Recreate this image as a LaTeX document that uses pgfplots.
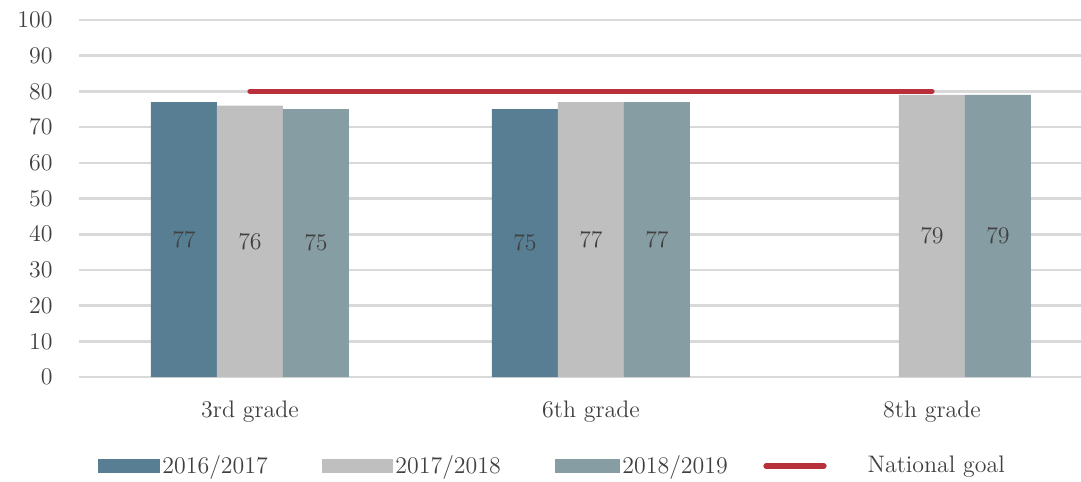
\documentclass[border=0pt]{standalone}
\usepackage{pgfplots}
\pgfplotsset{compat=1.18}
\definecolor{cA}{HTML}{577E93}
\definecolor{cB}{HTML}{BFBFBF}
\definecolor{cC}{HTML}{879DA4}
\definecolor{goal}{HTML}{B8313A}
\definecolor{gridc}{HTML}{D9D9D9}
\definecolor{txt}{HTML}{404040}
\begin{document}
\begin{tikzpicture}[font=\fontsize{12}{14}\selectfont]
\begin{axis}[
  scale only axis, width=500.75bp, height=178.5bp,
  xmin=-0.5, xmax=2.437, ymin=0, ymax=100,
  ytick={0,10,...,100},
  xtick={0,1,2}, xticklabels={3rd grade,6th grade,8th grade},
  axis line style={draw=none},
  major tick length=0pt,
  ymajorgrids, grid style={gridc, line width=1.3bp},
  tick label style={font=\fontsize{12}{14}\selectfont, text=txt},
  yticklabel style={anchor=east, inner sep=0pt, xshift=-13.25bp},
  xticklabel style={anchor=base, inner sep=0pt, yshift=-20bp},
  clip=false,
  legend style={at={(0,0)}, anchor=west, xshift=9.25bp, yshift=-44.5bp,
    draw=none, fill=none, inner sep=0pt, column sep=0pt,
    nodes={inner sep=0pt, text=txt},
    font=\fontsize{12}{14}\selectfont,
    /tikz/every odd column/.append style={column sep=1bp}},
  legend columns=4, legend cell align=left,
  nodes near coords,
  visualization depends on=y \as \rawy,
  every node near coord/.append style={anchor=center, text=txt,
    font=\fontsize{12}{14}\selectfont,
    shift={(axis direction cs:0,-\rawy/2)}},
]
\addplot[ybar, bar width=33bp, bar shift=-33bp, fill=cA, draw=none,
  every node near coord/.append style={xshift=-33bp},
  legend image code/.code={\fill[cA] (0bp,-3.5bp) rectangle (31bp,3.5bp);}]
  coordinates {(0,77) (1,75)};
\addlegendentry{\makebox[80bp][l]{2016/2017}}
\addplot[ybar, bar width=33bp, bar shift=0bp, fill=cB, draw=none,
  legend image code/.code={\fill[cB] (0bp,-3.5bp) rectangle (35.5bp,3.5bp);}]
  coordinates {(0,76) (1,77) (2,79)};
\addlegendentry{\makebox[80bp][l]{2017/2018}}
\addplot[ybar, bar width=33bp, bar shift=33bp, fill=cC, draw=none,
  every node near coord/.append style={xshift=33bp},
  legend image code/.code={\fill[cC] (0bp,-3.5bp) rectangle (32.5bp,3.5bp);}]
  coordinates {(0,75) (1,77) (2,79)};
\addlegendentry{\makebox[70.5bp][l]{2018/2019}}
\addplot[sharp plot, goal, line width=2.6bp, line cap=round, mark=none,
  nodes near coords={},
  legend image code/.code={\draw[goal, line width=2.6bp, line cap=round] (1bp,0) -- (30bp,0);}]
  coordinates {(0,80) (2,80)};
\addlegendentry{\hspace*{19.5bp}National goal}
\coordinate (SW) at (rel axis cs:0,0);
\coordinate (NE) at (rel axis cs:1,1);
\end{axis}
\pgfresetboundingbox
\path ([shift={(-39.75bp,-52.5bp)}]SW) rectangle ([shift={(0bp,10bp)}]NE);
\end{tikzpicture}
\end{document}
